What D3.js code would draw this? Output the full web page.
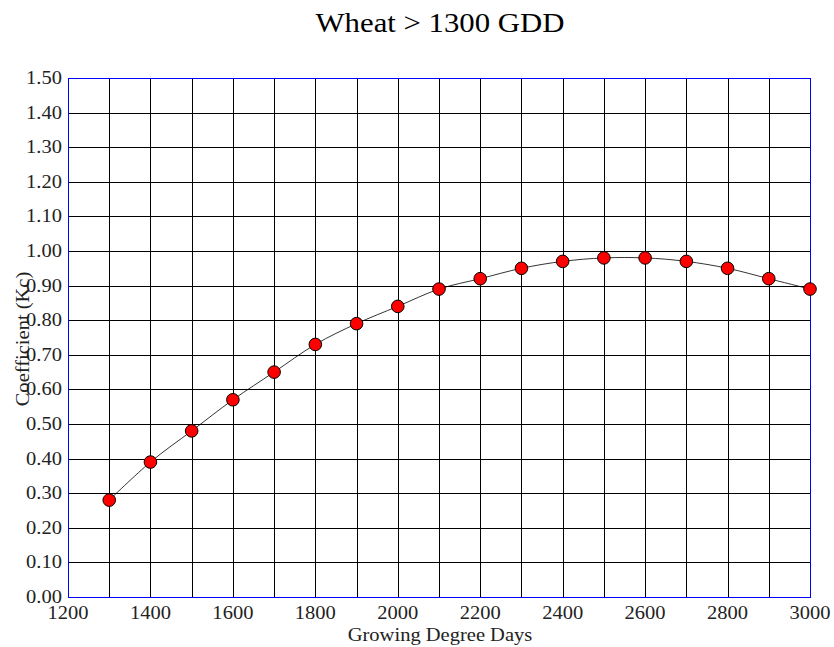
<!DOCTYPE html>
<html><head><meta charset="utf-8">
<script src="https://cdn.jsdelivr.net/npm/d3@7"></script>
<style>body{margin:0;background:#fff}svg{display:block}</style>
</head><body>
<svg id="c" width="834" height="647"></svg>
<script>
const gdd = [1300,1400,1500,1600,1700,1800,1900,2000,2100,2200,2300,2400,2500,2600,2700,2800,2900,3000];
const kc  = [0.28,0.39,0.48,0.57,0.65,0.73,0.79,0.84,0.89,0.92,0.95,0.97,0.98,0.98,0.97,0.95,0.92,0.89];
const xTicks = [1200,1400,1600,1800,2000,2200,2400,2600,2800,3000];
const xGrid = d3.range(1200,3001,100);
const yTicks = d3.range(0,16).map(i=>i/10);
const title = "Wheat > 1300 GDD";
const xLabel = "Growing Degree Days";
const yLabel = "Coefficient (Kc)";

const svg = d3.select("#c");
const L=68, R=810, T=78, B=597;
const x = d3.scaleLinear().domain([1200,3000]).range([L,R]);
const y = d3.scaleLinear().domain([0,1.5]).range([B,T]);
const font = "'Liberation Serif','Times New Roman',serif";
const SX = 1.14;

const g = svg.append("g");
g.selectAll("line.v").data(xGrid).enter().append("line")
  .attr("x1",d=>Math.round(x(d))+0.5).attr("x2",d=>Math.round(x(d))+0.5)
  .attr("y1",T).attr("y2",B).attr("stroke","#000").attr("stroke-width",1);
g.selectAll("line.h").data(yTicks).enter().append("line")
  .attr("y1",d=>Math.round(y(d))+0.5).attr("y2",d=>Math.round(y(d))+0.5)
  .attr("x1",L).attr("x2",R).attr("stroke","#000").attr("stroke-width",1);
g.append("rect").attr("x",L+0.5).attr("y",T+0.5).attr("width",R-L).attr("height",B-T)
  .attr("fill","none").attr("stroke","#0000ff").attr("stroke-width",1);

const pts = gdd.map((d,i)=>[d,kc[i]]);
const line = d3.line().x(d=>x(d[0])).y(d=>y(d[1])).curve(d3.curveCardinal);
svg.append("path").attr("d",line(pts)).attr("fill","none").attr("stroke","#000").attr("stroke-width",0.8);
svg.selectAll("circle").data(pts).enter().append("circle")
  .attr("cx",d=>x(d[0])).attr("cy",d=>y(d[1])).attr("r",6.3)
  .attr("fill","#ff0000").attr("stroke","#000").attr("stroke-width",1);

function txt(parent, px, py, rot, size, anchor, s, color){
  parent.append("text")
    .attr("transform",`translate(${px},${py}) rotate(${rot}) scale(${SX},1)`)
    .attr("text-anchor",anchor).attr("font-family",font).attr("font-size",size)
    .attr("fill",color||"#222").text(s);
}
yTicks.forEach(d=>txt(svg,62,y(d)+6,0,18,"end",d3.format(".2f")(d)));
xTicks.forEach(d=>txt(svg,x(d),619,0,18,"middle",String(d)));
txt(svg,440,32,0,27,"middle",title,"#000");
txt(svg,440,641,0,18,"middle",xLabel);
txt(svg,29,339,-90,18,"middle",yLabel);
</script>
</body></html>
